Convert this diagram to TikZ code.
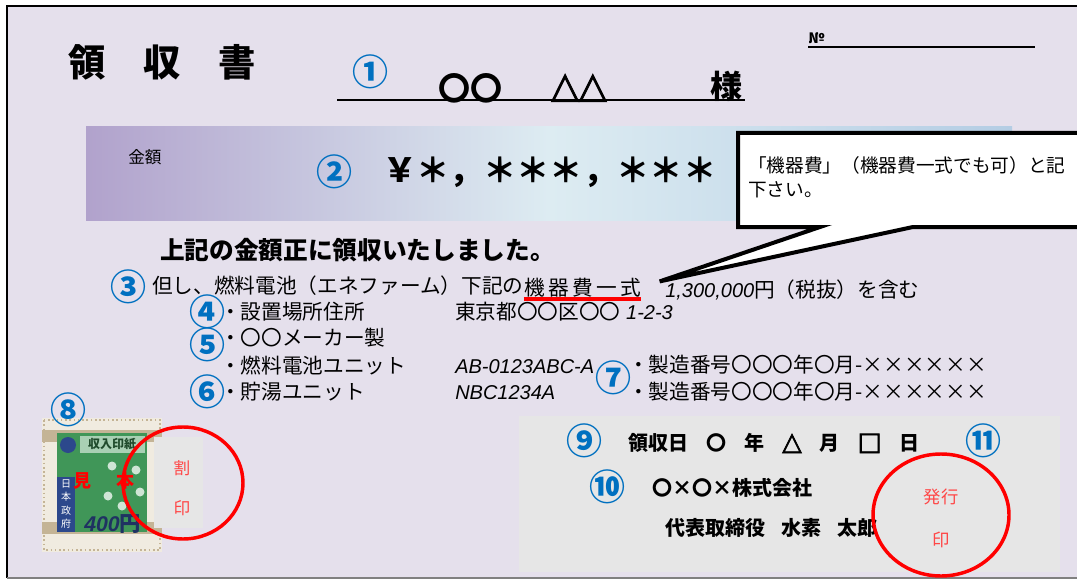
\documentclass[tikz,border=0pt]{standalone}
\usepackage{fontspec}
\setmainfont{Noto Sans CJK JP}
\newfontfamily\numfont{Liberation Sans}
\newfontfamily\symfont[FakeBold=2.5]{DejaVu Sans}
\usetikzlibrary{positioning}
\definecolor{paper}{RGB}{229,224,236}
\definecolor{numblue}{RGB}{0,112,192}
\definecolor{bandl}{RGB}{177,162,204}
\definecolor{bandm}{RGB}{221,236,242}
\definecolor{bandr}{RGB}{180,205,228}
\definecolor{boxgrey}{RGB}{230,230,230}
\definecolor{sealred}{RGB}{255,0,0}
\definecolor{inkred}{RGB}{255,70,70}
\definecolor{stampgreen}{RGB}{64,150,88}
\definecolor{stampblue}{RGB}{44,72,140}
\definecolor{stampcream}{RGB}{240,235,224}
\definecolor{stampbeige}{RGB}{196,180,150}
\newcommand{\dgap}{\hspace{0.9em}}
\newcommand{\latin}{\numfont\itshape\fontsize{15}{15}\selectfont}
\newcommand{\dsym}{\symfont\fontsize{19}{19}\selectfont}

\begin{document}
\begin{tikzpicture}
[x=0.75pt,y=-0.75pt,
 num/.style={text=numblue,font=\bfseries\fontsize{27}{27}\selectfont,inner sep=0pt,text height=0.8em,text depth=0.08em,yshift=-6.5pt},
 brush/.style={font=\fontsize{15.5}{15.5}\selectfont,inner sep=0pt,anchor=west,text height=0.85em,text depth=0.15em,yshift=-1.5pt},
 heavy/.style={font=\bfseries\fontsize{15}{15}\selectfont,inner sep=0pt,anchor=west},
 big/.style={font=\bfseries\fontsize{24}{24}\selectfont,inner sep=0pt,anchor=west},
 seal/.style={draw=sealred,line width=2.6pt},
 sealtext/.style={text=inkred,font=\fontsize{12.5}{13}\selectfont,inner sep=0pt}]
\useasboundingbox (0,0) rectangle (1077,581);
\fill[white] (0,0) rectangle (1077,581);
\fill[paper] (7,6) rectangle (1077,578);
\draw[line width=1.5pt] (1077,6) -- (7,6) -- (7,578);
\draw[gray,line width=0.8pt] (7,578) -- (1077,578);

% header
\node[font=\bfseries\fontsize{28}{28}\selectfont,inner sep=0pt] (title) at (162,62) {領\hspace{1em}収\hspace{1em}書};
\node[num] (n1) at (370,72) {①};
\node[big] (maru) at (438,88) {〇〇};
\node[big,font=\symfont\fontsize{27}{27}\selectfont] (sankaku) at (551,88) {△△};
\node[big] (sama) at (710,86) {様};
\draw[line width=1pt] (337,100) -- (745,100);
\node[font=\bfseries\fontsize{11}{11}\selectfont,inner sep=0pt,anchor=west] (no) at (808,38) {№};
\draw[line width=0.8pt] (808,47) -- (1035,47);

% amount
\shade[left color=bandl,right color=bandr,middle color=bandm] (86,127) rectangle (1012,220);
\node[font=\fontsize{12.5}{13}\selectfont,inner sep=0pt,anchor=west] (kingaku) at (128,157) {金額};
\node[num] (n2) at (334,172) {②};
\node[big,font=\bfseries\fontsize{25}{25}\selectfont] (amount) at (383,172) {￥＊，＊＊＊，＊＊＊};

\node[font=\bfseries\fontsize{18.5}{19}\selectfont,inner sep=0pt,anchor=west] (received) at (160,250) {上記の金額正に領収いたしました。};

% details
\node[num] (n3) at (128,287) {③};
\node[brush] (tadashi) at (152,287) {但し、燃料電池（エネファーム）下記の};
\node[brush,right=0pt of tadashi] (kiki) {\addfontfeatures{LetterSpace=16}機器費一式};
\node[brush,right=18pt of kiki] (price) {{\latin 1,300,000}円（税抜）を含む};
\draw[sealred,line width=3pt] ([yshift=-1pt]kiki.south west) -- ([yshift=-1pt]kiki.south east);

\node[num] (n4) at (207,312) {④};
\node[brush] (place) at (220,313) {・設置場所住所};
\node[brush] (addr) at (455,313) {東京都〇〇区〇〇{\latin\ 1-2-3}};
\node[num] (n5) at (207,345) {⑤};
\node[brush] (maker) at (220,339) {・〇〇メーカー製};
\node[brush] (fcunit) at (220,367) {・燃料電池ユニット};
\node[brush] (fcmodel) at (455,367) {\latin AB-0123ABC-A};
\node[num] (n6) at (207,392) {⑥};
\node[brush] (tank) at (220,393) {・貯湯ユニット};
\node[brush] (tankmodel) at (455,393) {\latin NBC1234A};
\node[num] (n7) at (613,378) {⑦};
\node[brush] (serial1) at (628,366) {・製造番号〇〇〇年〇月-××××××};
\node[brush] (serial2) at (628,393) {・製造番号〇〇〇年〇月-××××××};

% callout
\begin{scope}
\clip (0,0) rectangle (1077,581);
\coordinate (tip) at ([xshift=14pt,yshift=2pt]kiki.north east);
\filldraw[fill=white,line width=3pt,line join=miter] (738,133) -- (1095,133) -- (1095,227) -- (913,227) -- (tip) -- (820,227) -- (738,227) -- cycle;
\node[font=\fontsize{14}{18}\selectfont,inner sep=0pt,anchor=north west,align=left] (note) at (748,156) {「機器費」（機器費一式でも可）と記\\下さい。};
\end{scope}

% stamp
\fill[stampcream] (42,418) rectangle (162,552);
\draw[stampbeige,dotted,line width=1.2pt] (44,420) rectangle (160,550);
\fill[stampbeige] (42,430) rectangle (162,442);
\fill[stampbeige] (42,522) rectangle (162,534);
\fill[stampgreen] (57,433) rectangle (147,532);
\fill[stampgreen!45] (80,436) rectangle (145,453);
\fill[stampblue] (57,477) rectangle (75,532);
\fill[stampblue] (68,445) circle (8);
\foreach \x/\y in {112/466,136/470,108/496,140/492,122/506}
  \fill[white!75!stampgreen] (\x,\y) circle (4.5);
\node[font=\bfseries\fontsize{9}{9}\selectfont,text=stampgreen!50!black,inner sep=0pt] (inshi) at (112,444) {収入印紙};
\node[font=\bfseries\fontsize{13.5}{14}\selectfont,text=red,inner sep=0pt] (mihon) at (104,481) {見\hspace{1.4em}本};
\node[font=\fontsize{7.5}{10}\selectfont,text=white,inner sep=0pt,align=center] (seifu) at (66,504) {日\\本\\政\\府};
\node[font=\bfseries\fontsize{16}{16}\selectfont,text=stampblue!70!black,inner sep=0pt,anchor=west] (yen400) at (84,524) {{\numfont\itshape 400}円};
\node[num] (n8) at (68,410) {⑧};

% tally seal
\fill[boxgrey] (154,437) rectangle (203,528);
\node[sealtext] (wari) at (182,468) {割};
\node[sealtext] (wariin) at (182,508) {印};
\draw[seal] (183,483) ellipse (60 and 56);

% issuer
\fill[boxgrey] (519,416) rectangle (1060,572);
\node[num] (n9) at (584,441) {⑨};
\node[heavy] (date) at (628,443) {領収日{\dgap}〇{\dgap}年{\dgap}{\dsym △}{\dgap}月{\dgap}{\dsym □}{\dgap}日};
\node[num] (n11) at (983,441) {⑪};
\node[num] (n10) at (607,487) {⑩};
\node[heavy] (company) at (652,488) {〇×〇×株式会社};
\node[heavy] (rep) at (665,528) {代表取締役\hspace{0.8em}水素\hspace{0.8em}太郎};
\node[sealtext,font=\fontsize{13}{13}\selectfont] (hakko) at (941,497) {発行};
\node[sealtext,font=\fontsize{13}{13}\selectfont] (hakkoin) at (941,540) {印};
\draw[seal] (941,515) ellipse (68 and 61);
\end{tikzpicture}
\end{document}
